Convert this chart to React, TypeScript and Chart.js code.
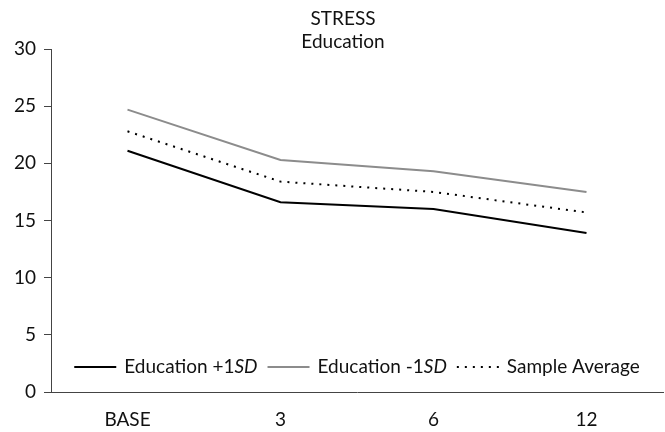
import React, { useEffect, useRef } from "react";
import { Chart, registerables } from "chart.js";

Chart.register(...registerables);

const categories = ["BASE", "3", "6", "12"];
const plusSD = [21.1, 16.6, 16.0, 13.9];
const minusSD = [24.7, 20.3, 19.3, 17.5];
const sampleAvg = [22.8, 18.4, 17.5, 15.7];
const titleLines = ["STRESS", "Education"];
const legendItems = [
  { pre: "Education +1", ital: "SD" },
  { pre: "Education -1", ital: "SD" },
  { pre: "Sample Average", ital: "" },
];

const FONT = "Lato";
const TEXT = "#111";
const SIZE = 19;

const titlePlugin = {
  id: "customTitle",
  afterDraw(chart: any) {
    const ctx = chart.ctx;
    ctx.save();
    ctx.fillStyle = TEXT;
    ctx.font = `19px ${FONT}`;
    ctx.textAlign = "center";
    ctx.textBaseline = "middle";
    ctx.fillText(titleLines[0], 343, 19);
    ctx.fillText(titleLines[1], 343, 42);
    ctx.restore();
  },
};

const legendPlugin = {
  id: "customLegend",
  afterDraw(chart: any) {
    const ctx = chart.ctx;
    const area = chart.chartArea;
    const y = 367;
    const lineLen = 42;
    const gapText = 8;
    const gapItem = 10;
    ctx.save();
    const reg = `${SIZE}px ${FONT}`;
    const ital = `italic ${SIZE}px ${FONT}`;
    const widths = legendItems.map((it) => {
      ctx.font = reg;
      let w = ctx.measureText(it.pre).width;
      ctx.font = ital;
      w += it.ital ? ctx.measureText(it.ital).width : 0;
      return w;
    });
    const total =
      widths.reduce((a, b) => a + b, 0) +
      legendItems.length * (lineLen + gapText) +
      (legendItems.length - 1) * gapItem;
    let x = (area.left + area.right) / 2 - total / 2;
    chart.data.datasets.forEach((ds: any, i: number) => {
      ctx.beginPath();
      ctx.strokeStyle = ds.borderColor;
      ctx.lineWidth = ds.borderWidth;
      ctx.setLineDash(ds.borderDash || []);
      ctx.moveTo(x, y);
      ctx.lineTo(x + lineLen, y);
      ctx.stroke();
      ctx.setLineDash([]);
      x += lineLen + gapText;
      ctx.fillStyle = TEXT;
      ctx.textBaseline = "middle";
      ctx.textAlign = "left";
      ctx.font = reg;
      ctx.fillText(legendItems[i].pre, x, y);
      x += ctx.measureText(legendItems[i].pre).width;
      if (legendItems[i].ital) {
        ctx.font = ital;
        ctx.fillText(legendItems[i].ital, x, y);
        x += ctx.measureText(legendItems[i].ital).width;
      }
      x += gapItem;
    });
    ctx.restore();
  },
};

export default function App() {
  const ref = useRef<HTMLCanvasElement>(null);
  useEffect(() => {
    document.body.style.margin = "0";
    const chart = new Chart(ref.current!, {
      type: "line",
      data: {
        labels: categories,
        datasets: [
          {
            label: "Education +1SD",
            data: plusSD,
            borderColor: "#000",
            borderWidth: 2,
            pointRadius: 0,
            tension: 0,
          },
          {
            label: "Education -1SD",
            data: minusSD,
            borderColor: "#8c8c8c",
            borderWidth: 2,
            pointRadius: 0,
            tension: 0,
          },
          {
            label: "Sample Average",
            data: sampleAvg,
            borderColor: "#000",
            borderWidth: 2,
            borderDash: [2, 6],
            pointRadius: 0,
            tension: 0,
          },
        ],
      },
      options: {
        animation: false,
        responsive: true,
        maintainAspectRatio: false,
        layout: { padding: { top: 49, left: 0, right: 2, bottom: 0 } },
        plugins: {
          legend: { display: false },
          title: { display: false },
          tooltip: { enabled: false },
        },
        scales: {
          x: {
            offset: true,
            grid: { display: false },
            border: { display: true, color: "#444", width: 1 },
            ticks: {
              color: TEXT,
              font: { family: FONT, size: SIZE },
              padding: 8,
              maxRotation: 0,
            },
            afterFit: (s: any) => {
              s.height = 40;
            },
          },
          y: {
            min: 0,
            max: 30,
            grid: {
              display: true,
              drawOnChartArea: false,
              drawTicks: true,
              tickLength: 7,
              color: "#444",
            },
            border: { display: true, color: "#444", width: 1 },
            ticks: {
              stepSize: 5,
              color: TEXT,
              font: { family: FONT, size: SIZE },
              padding: 8,
            },
            afterFit: (s: any) => {
              s.width = 51;
            },
          },
        },
      },
      plugins: [titlePlugin, legendPlugin],
    });
    return () => chart.destroy();
  }, []);
  return (
    <div style={{ width: 665, height: 432, position: "relative" }}>
      <canvas ref={ref} />
    </div>
  );
}
